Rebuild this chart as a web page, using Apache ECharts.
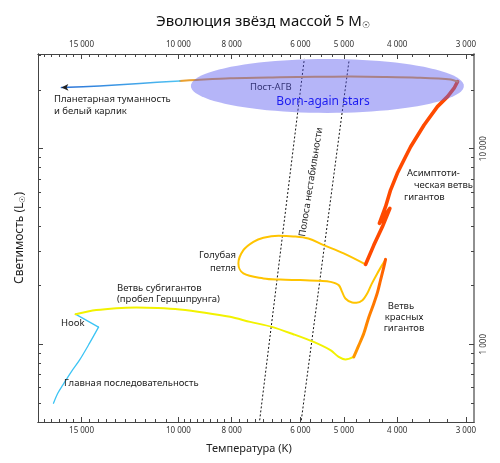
<!DOCTYPE html>
<html><head><meta charset="utf-8">
<script src="https://cdn.jsdelivr.net/npm/echarts@6/dist/echarts.min.js"></script>
<style>html,body{margin:0;padding:0;background:#fff}#c{width:500px;height:463px}</style>
</head><body><div id="c"></div>
<script>
const FONT = '"Noto Sans", "Open Sans", sans-serif';

// ---- data (temperature K, luminosity L☉) ----
const msT = [16870, 16570, 16230, 15660, 15130, 14505, 13970];
const msL = [499, 561, 617, 722, 828, 1012, 1222];
const hookT = [13970, 15385];
const hookL = [1222, 1424];
const sgT = [15385, 14104, 12970, 11925, 10900, 9938, 8946, 8054, 7404, 6760, 6182, 5675, 5290, 5110, 4969, 4798];
const sgL = [1424, 1494, 1529, 1541, 1532, 1506, 1450, 1380, 1301, 1226, 1125, 1027, 932, 861, 835, 861];
const rgbT = [4798, 4705, 4601, 4511, 4411, 4343, 4289, 4235, 4200];
const rgbL = [861, 977, 1134, 1359, 1616, 1846, 2127, 2449, 2715];
const loopT = [4200, 4271, 4348, 4453, 4535, 4626, 4745, 4831, 4969, 5038, 5110, 5290, 5518, 6002, 6528, 7004, 7617, 7778, 7617, 7303, 7004, 6575, 6182, 5803, 5443, 5005, 4567];
const loopL = [2715, 2508, 2301, 2029, 1818, 1680, 1631, 1635, 1714, 1852, 2005, 2084, 2109, 2127, 2140, 2170, 2301, 2590, 3029, 3341, 3502, 3585, 3560, 3469, 3213, 2913, 2559];
const agbT = [4567, 4411, 4258, 4124, 4310, 4200, 4113, 3998, 3889, 3781, 3574, 3380, 3240, 3152, 3107];
const agbL = [2559, 3213, 3973, 4953, 4150, 5047, 6142, 7482, 8752, 10237, 13224, 16406, 18465, 20386, 22033];
const pagbT = [3107, 3196, 3676, 4235, 4864, 5635, 6528, 8054, 9265, 9938];
const pagbL = [22033, 22610, 23090, 23285, 23370, 23340, 23200, 22930, 22480, 22210];
const wdT = [9938, 11760, 13910, 16320];
const wdL = [22210, 21570, 20940, 20530];
const stripLeftT = [7115, 5902];
const stripLeftL = [408, 28790];
const stripRightT = [5977, 4892];
const stripRightL = [408, 28460];
const ellipseT = [9490, 3026];
const ellipseL = [15240, 28770];

// ---- ticks ----
const xMajor = [15000, 10000, 8000, 6000, 5000, 4000, 3000];
const xMinor = [];
for (let t = 18000; t > 10000; t -= 500) if (!xMajor.includes(t)) xMinor.push(t);
for (let t = 9750; t >= 3000; t -= 250) if (!xMajor.includes(t)) xMinor.push(t);
const yMajor = [1000, 10000];
const yMinor = [400, 500, 600, 700, 800, 900, 2000, 3000, 4000, 5000, 6000, 7000, 8000, 9000, 20000, 30000];

const lg = Math.log10;
const X_MIN = lg(2900), X_MAX = lg(18000);
const Y_MIN = lg(400), Y_MAX = lg(30500);
const pts = (T, L) => T.map((t, i) => [lg(t), lg(L[i])]);
const fmt = v => String(Math.round(Math.pow(10, v))).replace(/\B(?=(\d{3})+(?!\d))/g, ' ');

function xAx(pos, major, labels) {
  return {
    type: 'value', position: pos, min: X_MIN, max: X_MAX, inverse: true,
    axisLine: { show: true, onZero: false, lineStyle: { color: '#444', width: 1 } },
    axisTick: { show: true, inside: true, length: major ? 5 : 3, customValues: (major ? xMajor : xMinor).map(lg), lineStyle: { color: '#444' } },
    axisLabel: { show: labels, customValues: xMajor.map(lg), formatter: fmt, fontSize: 8, color: '#333', margin: 5, fontFamily: FONT },
    splitLine: { show: false }
  };
}
function yAx(pos, major, labels) {
  return {
    type: 'value', position: pos, min: Y_MIN, max: Y_MAX,
    axisLine: { show: true, onZero: false, lineStyle: { color: pos === 'right' ? '#888' : '#444', width: pos === 'right' ? 1.5 : 1 } },
    axisTick: { show: true, inside: true, length: major ? 5 : 3, customValues: (major ? yMajor : yMinor).map(lg), lineStyle: { color: '#444' } },
    axisLabel: { show: labels, customValues: yMajor.map(lg), formatter: fmt, fontSize: 8, color: '#333', margin: 6, rotate: 90, fontFamily: FONT },
    splitLine: { show: false }
  };
}

function line(T, L, color, width, smooth, extra) {
  return Object.assign({
    type: 'line', xAxisIndex: 0, yAxisIndex: 0, data: pts(T, L), symbol: 'none', smooth: smooth,
    lineStyle: { color: color, width: width, cap: 'round', join: 'round' }, silent: true, z: 3, animation: false
  }, extra || {});
}

const G = echarts.graphic;
const wdData = pts(wdT, wdL).map((p, i, a) => i === a.length - 1 ?
  { value: p, symbol: 'arrow', symbolSize: [5, 7], symbolRotate: 92, itemStyle: { color: '#222' } } : { value: p, symbol: 'none' });

function txt(text, x, y, opts) {
  opts = opts || {};
  return {
    type: 'text', x: x, y: y, z: opts.z != null ? opts.z : 20, rotation: opts.rotation || 0, silent: true,
    style: {
      text: text, fill: opts.fill || '#222', font: (opts.size || 9.5) + 'px ' + FONT,
      textAlign: opts.align || 'left', textVerticalAlign: 'middle', rich: opts.rich
    }
  };
}

const option = {
  animation: false,
  backgroundColor: '#fff',
  grid: { left: 38, right: 26, top: 54, bottom: 41, containLabel: false },
  xAxis: [xAx('bottom', true, true), xAx('top', true, true), xAx('bottom', false, false), xAx('top', false, false)],
  yAxis: [yAx('left', true, false), yAx('right', true, true), yAx('left', false, false), yAx('right', false, false)],
  series: [
    line(stripLeftT, stripLeftL, '#111', 1, false, { lineStyle: { color: '#111', width: 1, type: [2, 2] }, z: 2 }),
    line(stripRightT, stripRightL, '#111', 1, false, { lineStyle: { color: '#111', width: 1, type: [2, 2] }, z: 2 }),
    line(msT, msL, '#3cc4f4', 1.3, 0.3),
    line(hookT, hookL, '#3cc4f4', 1.3, false),
    line(sgT, sgL, '#f2f200', 2, 0.3),
    line(loopT, loopL, '#ffc400', 2, 0.35),
    line(rgbT, rgbL, new G.LinearGradient(0, 1, 0, 0, [{ offset: 0, color: '#ff9a00' }, { offset: 1, color: '#ff5a00' }]), 3, 0.3),
    line(agbT, agbL, '#ff4a00', 3.6, false),
    line(pagbT, pagbL, '#eaa030', 2, 0.3),
    Object.assign(line(wdT, wdL, new G.LinearGradient(0, 0, 1, 0, [{ offset: 0, color: '#2a6fd6' }, { offset: 1, color: '#50c4f4' }]), 1.5, 0.3), { data: wdData, showSymbol: true, symbol: 'none' }),
    {
      type: 'custom', xAxisIndex: 0, yAxisIndex: 0, z: 5, silent: true, animation: false,
      data: [[lg(ellipseT[0]), lg(ellipseL[0]), lg(ellipseT[1]), lg(ellipseL[1])]],
      encode: { x: [0, 2], y: [1, 3] },
      renderItem: function (params, api) {
        const p1 = api.coord([api.value(0), api.value(1)]);
        const p2 = api.coord([api.value(2), api.value(3)]);
        const cx = (p1[0] + p2[0]) / 2, cy = (p1[1] + p2[1]) / 2;
        const rx = Math.abs(p2[0] - p1[0]) / 2, ry = Math.abs(p2[1] - p1[1]) / 2;
        const points = [];
        for (let i = 0; i < 96; i++) { const a = i / 96 * 2 * Math.PI; points.push([cx + rx * Math.cos(a), cy + ry * Math.sin(a)]); }
        return { type: 'polygon', shape: { points: points }, style: { fill: 'rgba(90,90,240,0.45)' } };
      }
    }
  ],
  graphic: { elements: [
    txt('Эволюция звёзд массой 5 M{s|☉}', 263, 22, { size: 15, align: 'center', fill: '#111', rich: { s: { fontSize: 9, fontFamily: FONT, fill: '#111', padding: [6, 0, 0, 0] } } }),
    txt('Температура (K)', 249, 449, { size: 11, align: 'center' }),
    txt('Светимость (L{s|☉})', 20, 238, { size: 12, align: 'center', rotation: Math.PI / 2, rich: { s: { fontSize: 8, fontFamily: FONT, fill: '#222', padding: [5, 0, 0, 0] } } }),
    txt('Планетарная туманность', 54, 99),
    txt('и белый карлик', 54, 111),
    txt('Пост-АГВ', 250, 87, { fill: '#111', z: 1 }),
    txt('Born-again stars', 323, 102, { size: 12, align: 'center', fill: '#1c1cf0' }),
    txt('Асимптоти-', 407, 173),
    txt('ческая ветвь', 414, 185),
    txt('гигантов', 404, 197),
    txt('Голубая', 236, 255, { align: 'right' }),
    txt('петля', 236, 268, { align: 'right' }),
    txt('Ветвь субгигантов', 117, 288),
    txt('(пробел Герцшпрунга)', 117, 299),
    txt('Hook', 61, 323),
    txt('Главная последовательность', 64, 383),
    txt('Ветвь', 401, 306, { align: 'center' }),
    txt('красных', 404, 317, { align: 'center' }),
    txt('гигантов', 404, 328, { align: 'center' }),
    txt('Полоса нестабильности', 311, 182, { align: 'center', rotation: 81 * Math.PI / 180 })
  ] }
};

const chart = echarts.init(document.getElementById('c'), null, { renderer: 'canvas' });
chart.setOption(option);
</script>
</body></html>
